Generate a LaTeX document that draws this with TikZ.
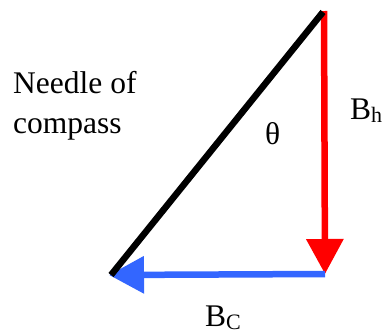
\documentclass[tikz,border=0pt]{standalone}
\usepackage{fontspec}
\setmainfont{Liberation Serif}
\usetikzlibrary{arrows.meta}
\newcommand{\subtxt}[1]{\raisebox{-3pt}[\height][0pt]{\fontsize{22}{22}\selectfont #1}}
\tikzset{
  lbl/.style={anchor=base west, inner sep=0pt, font=\fontsize{31.5}{40}\selectfont},
  vec/.style={line width=6.5pt, -{Triangle[length=35pt,width=36pt]}},
  needle/.style={line width=6.5pt, black}
}
\begin{document}
\begin{tikzpicture}[x=1pt,y=-1pt]
\useasboundingbox (0,0) rectangle (383,333);
\coordinate (top) at (324,11);
\coordinate (corner) at (325,274);
\coordinate (left) at (109,275);
\coordinate (ntop) at (323,12);
\coordinate (nbot) at (111,275);
\draw[vec, red] (top) -- (corner);
\draw[vec, color={rgb,255:red,51;green,102;blue,255}] (corner) -- (left);
\draw[needle] (nbot) -- (ntop);
\node[lbl] (n1) at (13,93) {Needle of};
\node[lbl] (n2) at (13,133) {compass};
\node[lbl] (th) at (265,144) {θ};
\node[lbl] (bh) at (350,119) {B\subtxt{h}};
\node[lbl] (bc) at (205,326) {B\subtxt{C}};
\end{tikzpicture}
\end{document}
